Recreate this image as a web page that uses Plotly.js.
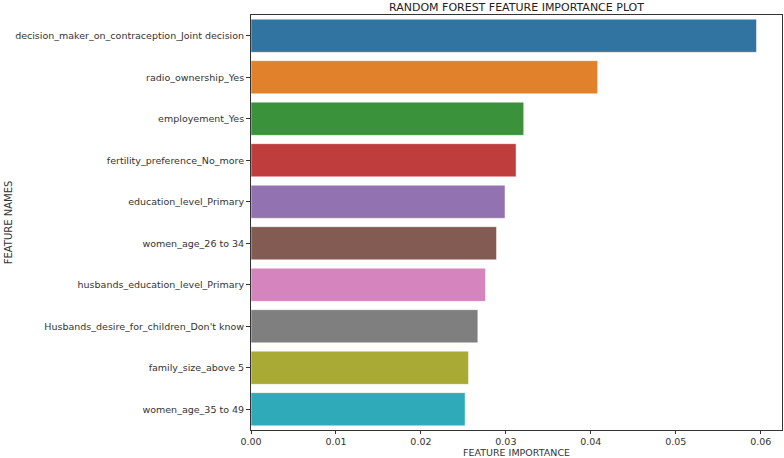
<!DOCTYPE html>
<html>
<head>
<meta charset="utf-8">
<script src="https://cdn.plot.ly/plotly-3.0.1.min.js"></script>
<style>
  html, body { margin: 0; padding: 0; background: #fff; }
  #plot { width: 784px; height: 458px; }
</style>
</head>
<body>
<div id="plot"></div>
<script>
// feature names, top to bottom
let features = [
    "decision_maker_on_contraception_Joint decision",
    "radio_ownership_Yes",
    "employement_Yes",
    "fertility_preference_No_more",
    "education_level_Primary",
    "women_age_26 to 34",
    "husbands_education_level_Primary",
    "Husbands_desire_for_children_Don't know",
    "family_size_above 5",
    "women_age_35 to 49"
];

// importance
let importance = [0.0595, 0.0408, 0.0321, 0.0312, 0.0299, 0.0289, 0.0276, 0.0267, 0.0256, 0.0252];

// seaborn default palette (desaturated)
let barColors = ["#3274a1", "#e1812c", "#3a923a", "#c03d3e", "#9372b2",
                 "#845b53", "#d684bd", "#7f7f7f", "#a9aa35", "#2eaab8"];

let xTicks = [0, 0.01, 0.02, 0.03, 0.04, 0.05, 0.06];
let xTickText = ["0.00", "0.01", "0.02", "0.03", "0.04", "0.05", "0.06"];

let trace = {
    type: "bar",
    orientation: "h",
    x: importance,
    y: features,
    marker: {
        color: barColors,
        line: { color: "rgba(255,255,255,0.5)", width: 1 }
    },
    width: 0.8,
    hoverinfo: "x+y"
};

let font = "DejaVu Sans, sans-serif";

let layout = {
    width: 784,
    height: 458,
    paper_bgcolor: "#fff",
    plot_bgcolor: "#fff",
    showlegend: false,
    margin: { l: 251, r: 2, t: 15, b: 28, pad: 0 },
    title: {
        text: "RANDOM FOREST FEATURE IMPORTANCE PLOT",
        font: { family: font, size: 11, color: "#222" },
        x: 0.5, xref: "paper", xanchor: "center",
        y: 1, yref: "paper", yanchor: "bottom", pad: { b: 4 }
    },
    xaxis: {
        range: [0, 0.0625],
        tickvals: xTicks,
        ticktext: xTickText,
        ticks: "outside",
        ticklen: 3,
        tickcolor: "#333",
        showgrid: false,
        zeroline: false,
        showline: true,
        linecolor: "#333",
        linewidth: 1,
        mirror: true,
        tickfont: { family: font, size: 9.5, color: "#333" },
        title: {
            text: "FEATURE IMPORTANCE",
            font: { family: font, size: 9.5, color: "#333" },
            standoff: 1
        }
    },
    yaxis: {
        autorange: "reversed",
        ticks: "outside",
        ticklen: 4,
        tickcolor: "#333",
        showgrid: false,
        zeroline: false,
        showline: true,
        linecolor: "#333",
        linewidth: 1,
        mirror: true,
        tickfont: { family: font, size: 9.5, color: "#333" },
        title: {
            text: "FEATURE NAMES",
            font: { family: font, size: 10, color: "#333" },
            standoff: 0
        }
    },
    bargap: 0.2
};

Plotly.newPlot("plot", [trace], layout, { displayModeBar: false, staticPlot: true });
</script>
</body>
</html>
